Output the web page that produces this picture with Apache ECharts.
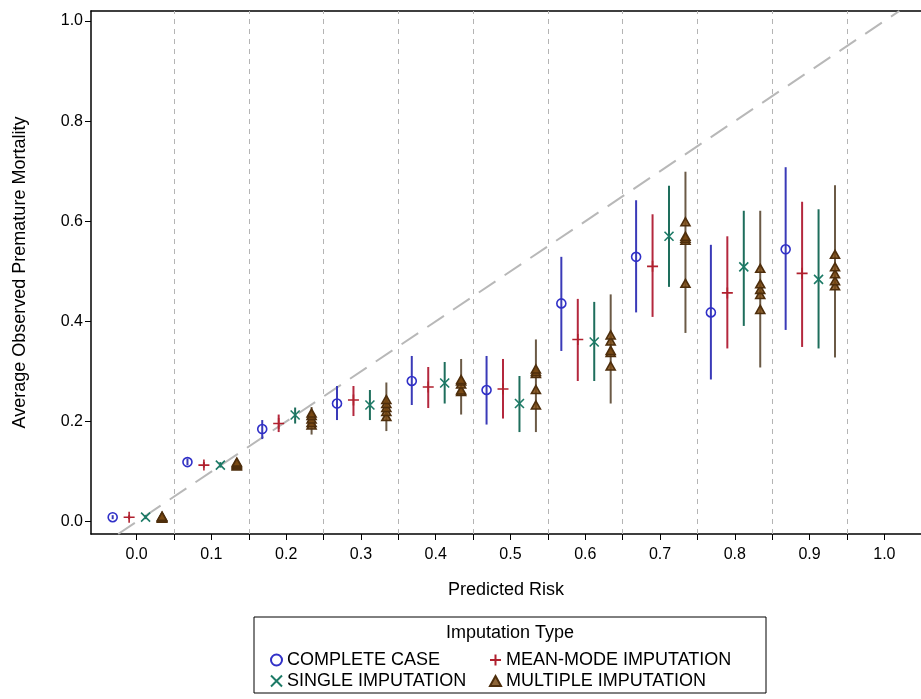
<!DOCTYPE html>
<html>
<head>
<meta charset="utf-8">
<script src="https://cdn.jsdelivr.net/npm/echarts@6/dist/echarts.min.js"></script>
<style>
html,body{margin:0;padding:0;background:#fff;}
#chart{width:921px;height:699px;}
</style>
</head>
<body>
<div id="chart"></div>
<script>
// ---- data ----
const riskBins = [0.0, 0.1, 0.2, 0.3, 0.4, 0.5, 0.6, 0.7, 0.8, 0.9];
const seriesNames = ['COMPLETE CASE', 'MEAN-MODE IMPUTATION', 'SINGLE IMPUTATION', 'MULTIPLE IMPUTATION'];

const ccMean = [0.009, 0.119, 0.185, 0.236, 0.281, 0.263, 0.436, 0.529, 0.418, 0.544];
const ccLow  = [0.005, 0.113, 0.165, 0.203, 0.233, 0.194, 0.341, 0.418, 0.284, 0.383];
const ccHigh = [0.013, 0.126, 0.203, 0.271, 0.331, 0.331, 0.529, 0.642, 0.553, 0.708];

const mmMean = [0.009, 0.113, 0.196, 0.243, 0.269, 0.265, 0.364, 0.510, 0.457, 0.496];
const mmLow  = [0.005, 0.108, 0.179, 0.211, 0.227, 0.206, 0.281, 0.409, 0.346, 0.349];
const mmHigh = [0.013, 0.119, 0.214, 0.271, 0.309, 0.325, 0.445, 0.614, 0.570, 0.639];

const siMean = [0.009, 0.113, 0.213, 0.233, 0.277, 0.236, 0.359, 0.570, 0.509, 0.484];
const siLow  = [0.005, 0.108, 0.196, 0.203, 0.236, 0.179, 0.281, 0.469, 0.391, 0.346];
const siHigh = [0.013, 0.119, 0.228, 0.263, 0.319, 0.291, 0.439, 0.671, 0.621, 0.624];

const miValues = [
  [0.007, 0.008, 0.009, 0.010, 0.011],
  [0.111, 0.113, 0.115, 0.117, 0.119],
  [0.193, 0.198, 0.205, 0.212, 0.217],
  [0.210, 0.220, 0.228, 0.236, 0.244],
  [0.260, 0.263, 0.275, 0.281, 0.284],
  [0.233, 0.264, 0.296, 0.300, 0.305],
  [0.311, 0.338, 0.342, 0.361, 0.373],
  [0.476, 0.562, 0.566, 0.570, 0.599],
  [0.424, 0.454, 0.464, 0.475, 0.506],
  [0.471, 0.481, 0.495, 0.509, 0.534]
];
const miLow  = [0.004, 0.106, 0.174, 0.181, 0.214, 0.179, 0.236, 0.377, 0.308, 0.328];
const miHigh = [0.014, 0.124, 0.229, 0.278, 0.325, 0.364, 0.454, 0.699, 0.621, 0.672];

const xTickValues = [0, 0.05, 0.1, 0.15, 0.2, 0.25, 0.3, 0.35, 0.4, 0.45, 0.5, 0.55, 0.6, 0.65, 0.7, 0.75, 0.8, 0.85, 0.9, 0.95, 1.0];
const xLabelValues = [0, 0.1, 0.2, 0.3, 0.4, 0.5, 0.6, 0.7, 0.8, 0.9, 1.0];
const yTickValues = [0, 0.2, 0.4, 0.6, 0.8, 1.0];
const binEdges = [0.05, 0.15, 0.25, 0.35, 0.45, 0.55, 0.65, 0.75, 0.85, 0.95];

// ---- layout / style ----
const X_MIN = -0.061, X_MAX = 1.049, Y_MIN = -0.0246, Y_MAX = 1.02;
const FONT = '"Liberation Sans", Arial, sans-serif';
const offsets = [-0.032, -0.010, 0.012, 0.034];
const markerColors = ['#3030c8', '#b0202e', '#1c7a66', '#4e2e0c'];
const markerFills = ['transparent', 'transparent', 'transparent', 'rgba(122,74,20,0.85)'];
const barColors = ['#3a3ab8', '#b4283e', '#1e6e5c', '#6b5a46'];

const means = [ccMean, mmMean, siMean];
const lows = [ccLow, mmLow, siLow, miLow];
const highs = [ccHigh, mmHigh, siHigh, miHigh];

const symbols = [
  'circle',
  'path://M0,5L10,5M5,0L5,10',
  'path://M0,0L10,10M10,0L0,10',
  'path://M5,0L10,9L0,9Z'
];
const symbolSizes = [[9, 9], [11, 11], [9, 9], [9, 8]];

const series = [];

// reference vertical dashed lines + diagonal
series.push({
  type: 'line', name: 'refs', data: [], silent: true,
  markLine: {
    silent: true, symbol: 'none', label: {show: false},
    lineStyle: {color: '#b4b4b4', type: [5, 5], width: 1},
    data: binEdges.map(v => ({xAxis: v}))
  }
});
series.push({
  type: 'line', name: 'diag', silent: true, symbol: 'none',
  data: [[Y_MIN, Y_MIN], [Y_MAX, Y_MAX]],
  lineStyle: {color: '#b8b8b8', width: 2, type: [20, 11]},
  z: 1
});

// error bars
for (let m = 0; m < 4; m++) {
  const data = riskBins.map((b, i) => [b + offsets[m], lows[m][i], highs[m][i]]);
  series.push({
    type: 'custom', name: 'ci' + m, silent: true, z: 2,
    data: data,
    encode: {x: 0, y: [1, 2]},
    renderItem: function (params, api) {
      const p1 = api.coord([api.value(0), api.value(1)]);
      const p2 = api.coord([api.value(0), api.value(2)]);
      return {
        type: 'line',
        shape: {x1: p1[0], y1: p1[1], x2: p2[0], y2: p2[1]},
        style: {stroke: barColors[m], lineWidth: 2}
      };
    }
  });
}

// markers
for (let m = 0; m < 4; m++) {
  let data;
  if (m < 3) {
    data = riskBins.map((b, i) => [b + offsets[m], means[m][i]]);
  } else {
    data = [];
    riskBins.forEach((b, i) => miValues[i].forEach(v => data.push([b + offsets[m], v])));
  }
  series.push({
    type: 'scatter', name: seriesNames[m], z: 3,
    symbol: symbols[m], symbolSize: symbolSizes[m],
    data: data,
    itemStyle: {color: markerFills[m], borderColor: markerColors[m], borderWidth: 1.6, opacity: 1},
    emphasis: {disabled: true}
  });
}

const legendText = {fontSize: 18, color: '#000', fontFamily: FONT};

const option = {
  animation: false,
  backgroundColor: '#fff',
  textStyle: {fontFamily: FONT},
  grid: {left: 91, top: 11, width: 830, height: 523, containLabel: false},
  xAxis: [{
    type: 'value', min: X_MIN, max: X_MAX, position: 'bottom',
    name: 'Predicted Risk', nameLocation: 'middle', nameGap: 47,
    nameTextStyle: {fontSize: 18, color: '#000', fontFamily: FONT},
    axisLine: {show: true, onZero: false, lineStyle: {color: '#000', width: 1.5}},
    axisTick: {show: true, length: 6, customValues: xTickValues, lineStyle: {color: '#000', width: 1}},
    axisLabel: {show: true, customValues: xLabelValues, formatter: v => v.toFixed(1), fontSize: 16, color: '#000', margin: 13, fontFamily: FONT},
    splitLine: {show: false}
  }, {
    type: 'value', min: X_MIN, max: X_MAX, position: 'top',
    axisLine: {show: true, onZero: false, lineStyle: {color: '#000', width: 1.5}},
    axisTick: {show: false}, axisLabel: {show: false}, splitLine: {show: false}
  }],
  yAxis: {
    type: 'value', min: Y_MIN, max: Y_MAX,
    name: 'Average Observed Premature Mortality', nameLocation: 'middle', nameGap: 62, nameRotate: 90,
    nameTextStyle: {fontSize: 18, color: '#000', fontFamily: FONT},
    axisLine: {show: true, onZero: false, lineStyle: {color: '#000', width: 1.5}},
    axisTick: {show: true, length: 6, customValues: yTickValues, lineStyle: {color: '#000', width: 1}},
    axisLabel: {show: true, customValues: yTickValues, formatter: v => v.toFixed(1), fontSize: 16, color: '#000', margin: 8, fontFamily: FONT},
    splitLine: {show: false}
  },
  legend: [{
    data: [seriesNames[0], seriesNames[2]],
    orient: 'vertical', left: 265, top: 646, itemGap: 3,
    itemWidth: 11, itemHeight: 11, selectedMode: false,
    textStyle: legendText
  }, {
    data: [seriesNames[1], seriesNames[3]],
    orient: 'vertical', left: 484, top: 646, itemGap: 3,
    itemWidth: 11, itemHeight: 11, selectedMode: false,
    textStyle: legendText
  }],
  graphic: [{
    type: 'rect', silent: true,
    shape: {x: 254, y: 617, width: 512, height: 76},
    style: {fill: 'none', stroke: '#000', lineWidth: 1}
  }, {
    type: 'text', silent: true, x: 510, y: 624,
    style: {text: 'Imputation Type', fontSize: 18, fontFamily: FONT, fill: '#000', align: 'center'}
  }],
  series: series
};

const chart = echarts.init(document.getElementById('chart'), null, {renderer: 'canvas'});
chart.setOption(option);
</script>
</body>
</html>
